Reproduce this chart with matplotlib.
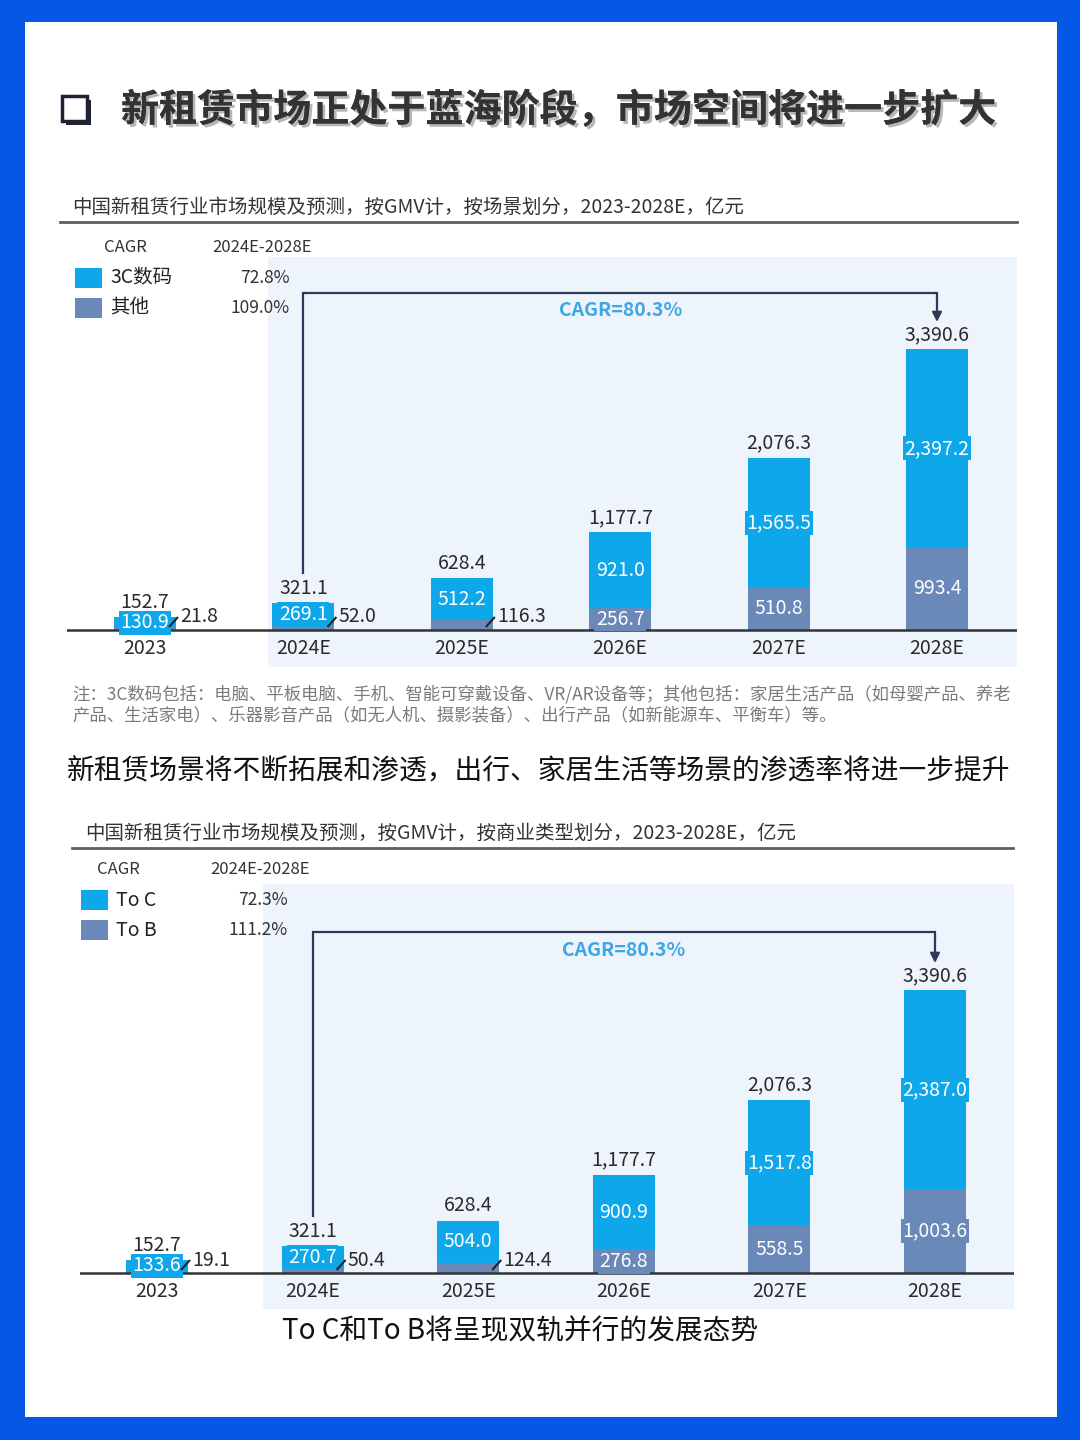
import matplotlib
matplotlib.use("Agg")
import matplotlib.pyplot as plt
from matplotlib.patches import Rectangle
import matplotlib.patheffects as pe

plt.rcParams["font.family"] = ["Noto Sans CJK SC", "DejaVu Sans"]

W, H = 1080, 1440

years = ["2023", "2024E", "2025E", "2026E", "2027E", "2028E"]

# chart 1: by scenario
digital_3c = [130.9, 269.1, 512.2, 921.0, 1565.5, 2397.2]
others = [21.8, 52.0, 116.3, 256.7, 510.8, 993.4]
totals_1 = [152.7, 321.1, 628.4, 1177.7, 2076.3, 3390.6]
legend_1 = ["3C数码", "其他"]
cagr_1 = ["72.8%", "109.0%"]

# chart 2: by business type
to_c = [133.6, 270.7, 504.0, 900.9, 1517.8, 2387.0]
to_b = [19.1, 50.4, 124.4, 276.8, 558.5, 1003.6]
totals_2 = [152.7, 321.1, 628.4, 1177.7, 2076.3, 3390.6]
legend_2 = ["To C", "To B"]
cagr_2 = ["72.3%", "111.2%"]

total_cagr = "CAGR=80.3%"

TOP_COLOR = "#0EA7EA"
BOTTOM_COLOR = "#6A88B8"
DARK = "#2A2A2A"
NAVY = "#2B3A58"
PANEL = "#EEF4FB"
BORDER = "#0558E6"


def fx(x):
    return x / W


def fy(y):
    return 1 - y / H


def add_rect(fig, x0, y0, x1, y1, **kw):
    r = Rectangle((fx(x0), fy(y1)), (x1 - x0) / W, (y1 - y0) / H,
                  transform=fig.transFigure, **kw)
    fig.add_artist(r)
    return r


def draw_chart(fig, g, top, bottom, totals, names, cagrs):
    """g holds the pixel geometry of one chart block."""
    # subtitle + rule
    fig.text(fx(g["sub_x"]), fy(g["sub_y"]), g["subtitle"], fontsize=14,
             color="#333333", va="center", ha="left")
    fig.add_artist(plt.Line2D([fx(g["rule_x0"]), fx(g["rule_x1"])],
                              [fy(g["rule_y"]), fy(g["rule_y"])],
                              transform=fig.transFigure, color="#5A5F6A", lw=2))
    # light background panel
    add_rect(fig, g["panel"][0], g["panel"][1], g["panel"][2], g["panel"][3],
             facecolor=PANEL, edgecolor="none", zorder=-4)

    # legend block
    lx, ly = g["leg_x"], g["leg_y"]
    fig.text(fx(g["cagr_x"]), fy(ly), "CAGR", fontsize=12,
             color="#333333", ha="center", va="center")
    fig.text(fx(g["period_x"]), fy(ly), "2024E-2028E", fontsize=12,
             color="#333333", ha="center", va="center")
    for k, (name, rate, col) in enumerate(zip(names, cagrs, [TOP_COLOR, BOTTOM_COLOR])):
        yc = ly + 31 + k * 30
        add_rect(fig, lx, yc - 10, lx + 27, yc + 10, facecolor=col, edgecolor="none")
        fig.text(fx(lx + 35), fy(yc), name, fontsize=14,
                 color="#222222", ha="left", va="center")
        fig.text(fx(g["rate_x"]), fy(yc), rate, fontsize=12.5,
                 color="#333333", ha="right", va="center")

    # plotting axes, mapped so data units line up with pixels
    s = g["scale"]
    p = g["pitch"]
    left, right = g["ax_x"]
    ax_top, ax_bot = g["ax_y"]
    ax = fig.add_axes([fx(left), fy(ax_bot), (right - left) / W, (ax_bot - ax_top) / H])
    ax.set_xlim((left - g["c0"]) / p, (right - g["c0"]) / p)
    ax.set_ylim(-(ax_bot - g["base"]) / s, (g["base"] - ax_top) / s)
    ax.axis("off")
    ax.patch.set_alpha(0)

    x = list(range(len(years)))
    w = g["bar_w"] / p
    ax.bar(x, bottom, width=w, color=BOTTOM_COLOR, zorder=2)
    ax.bar(x, top, width=w, bottom=bottom, color=TOP_COLOR, zorder=2)
    ax.axhline(0, color="#333333", lw=1.8, zorder=3)

    for i in x:
        ax.annotate(f"{totals[i]:,.1f}", (i, totals[i]), xytext=(0, 3),
                    textcoords="offset points", ha="center", va="bottom",
                    fontsize=14, color=DARK)
        ax.annotate(years[i], (i, 0), xytext=(0, -6), textcoords="offset points",
                    ha="center", va="top", fontsize=14, color=DARK)
        ax.text(i, bottom[i] + top[i] / 2, f"{top[i]:,.1f}", ha="center",
                va="center", fontsize=14, color="white", zorder=4,
                bbox=dict(boxstyle="square,pad=0.08", fc=TOP_COLOR, ec="none"))
        if bottom[i] > 200:
            ax.text(i, bottom[i] / 2, f"{bottom[i]:,.1f}", ha="center",
                    va="center", fontsize=14, color="white", zorder=4,
                    bbox=dict(boxstyle="square,pad=0.08", fc=BOTTOM_COLOR, ec="none"))
        else:
            # small segment: value sits outside with a short leader line
            edge = i + w / 2
            ax.plot([edge - 7 / p, edge + 2 / p], [3 / s, 13 / s],
                    color="#222222", lw=1.5, zorder=5, solid_capstyle="butt")
            ax.text(edge + 4 / p, 13 / s, f"{bottom[i]:,.1f}", ha="left",
                    va="center", fontsize=14, color=DARK, zorder=4)

    # CAGR bracket from 2024E to 2028E
    y_line = g["bracket"] / s
    y_start = totals[1] + 30 / s
    y_end = totals[-1] + 27 / s
    ax.plot([1, 1, 5, 5], [y_start, y_line, y_line, y_line - 5 / s],
            color=NAVY, lw=1.6, zorder=3, solid_joinstyle="miter")
    ax.annotate("", xy=(5, y_end), xytext=(5, y_line - 4 / s),
                arrowprops=dict(arrowstyle="-|>", color=NAVY, lw=1.6,
                                mutation_scale=14, shrinkA=0, shrinkB=0))
    ax.text(3, y_line - 18 / s, total_cagr, ha="center", va="center",
            fontsize=14, fontweight="bold", color="#3FA6E6")
    return ax


def main():
    fig = plt.figure(figsize=(W / 100, H / 100), dpi=100)
    fig.patch.set_facecolor(BORDER)
    add_rect(fig, 25, 22, 1057, 1417, facecolor="white", edgecolor="none", zorder=-5)

    # headline with box bullet
    add_rect(fig, 66, 100, 91, 125, facecolor="#1E2233", edgecolor="none")
    add_rect(fig, 62, 96, 87, 121, facecolor="white", edgecolor="#1E2233", lw=2.5)
    fig.text(fx(121), fy(110), "新租赁市场正处于蓝海阶段，市场空间将进一步扩大",
             fontsize=27.4, fontweight="bold", color="#333333", ha="left", va="center",
             path_effects=[pe.withSimplePatchShadow(offset=(2, -2), shadow_rgbFace="#888888",
                                                    alpha=0.6), pe.Normal()])

    chart_1 = dict(
        subtitle="中国新租赁行业市场规模及预测，按GMV计，按场景划分，2023-2028E，亿元",
        sub_x=72, sub_y=207, rule_x0=60, rule_x1=1017, rule_y=222,
        panel=(268, 257, 1017, 667), leg_x=75, leg_y=247,
        cagr_x=125, period_x=262, rate_x=290,
        ax_x=(67, 1017), ax_y=(230, 680), base=630, c0=145, pitch=158.4,
        bar_w=62, scale=281 / 3390.6, bracket=630 - 293,
    )
    draw_chart(fig, chart_1, digital_3c, others, totals_1, legend_1, cagr_1)

    fig.text(fx(72), fy(694),
             "注：3C数码包括：电脑、平板电脑、手机、智能可穿戴设备、VR/AR设备等；其他包括：家居生活产品（如母婴产品、养老",
             fontsize=12.5, color="#7A7A7A", ha="left", va="center")
    fig.text(fx(72), fy(715),
             "产品、生活家电）、乐器影音产品（如无人机、摄影装备）、出行产品（如新能源车、平衡车）等。",
             fontsize=12.5, color="#7A7A7A", ha="left", va="center")
    fig.text(fx(67), fy(771), "新租赁场景将不断拓展和渗透，出行、家居生活等场景的渗透率将进一步提升",
             fontsize=20, color="#111111", ha="left", va="center")

    chart_2 = dict(
        subtitle="中国新租赁行业市场规模及预测，按GMV计，按商业类型划分，2023-2028E，亿元",
        sub_x=85, sub_y=833, rule_x0=72, rule_x1=1013, rule_y=848,
        panel=(263, 884, 1014, 1309), leg_x=81, leg_y=869,
        cagr_x=118, period_x=260, rate_x=288,
        ax_x=(80, 1014), ax_y=(870, 1320), base=1273, c0=157, pitch=155.6,
        bar_w=62, scale=283 / 3390.6, bracket=1273 - 932,
    )
    draw_chart(fig, chart_2, to_c, to_b, totals_2, legend_2, cagr_2)

    fig.text(fx(520), fy(1332), "To C和To B将呈现双轨并行的发展态势",
             fontsize=20, color="#111111", ha="center", va="center")

    fig.savefig("out.png", dpi=100, facecolor=fig.get_facecolor())
    plt.close(fig)


if __name__ == "__main__":
    main()
